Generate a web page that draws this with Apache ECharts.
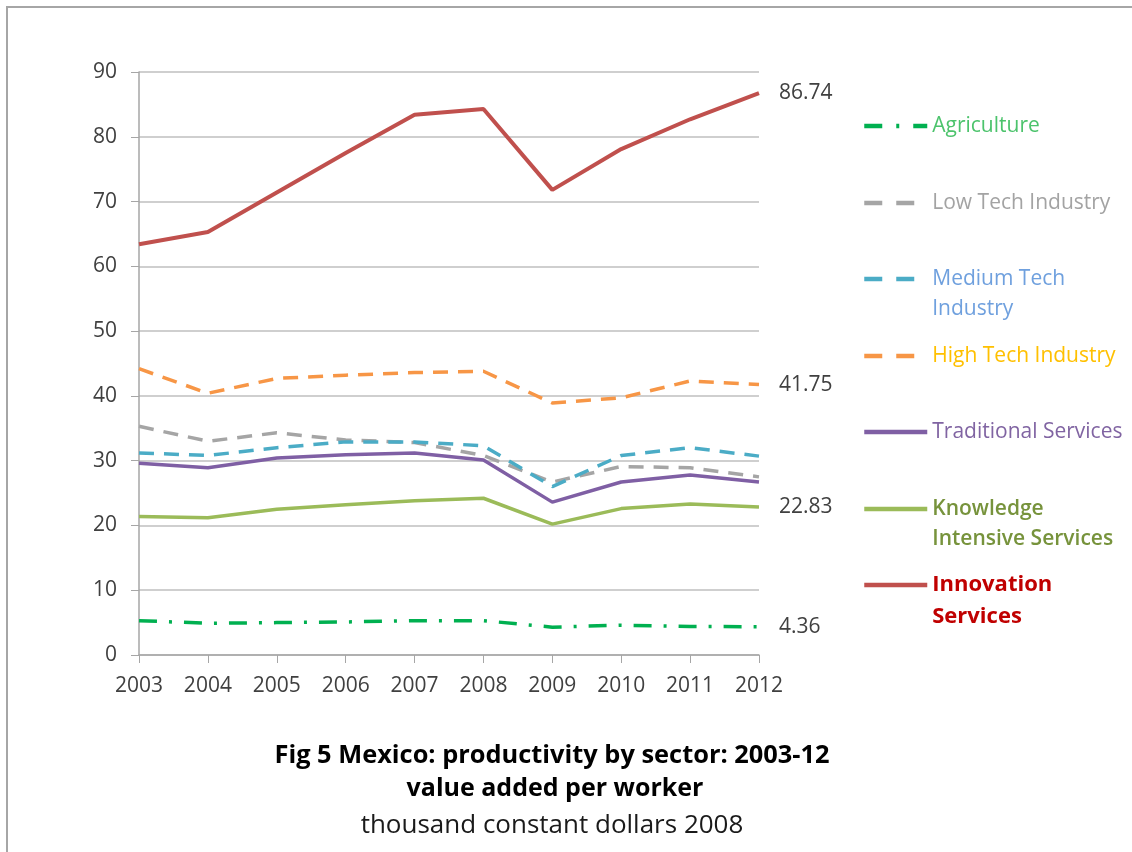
<!DOCTYPE html>
<html>
<head>
<meta charset="utf-8">
<script src="https://cdn.jsdelivr.net/npm/echarts@6/dist/echarts.min.js"></script>
<style>
html,body{margin:0;padding:0;background:#fff;}
#chart{width:1132px;height:852px;}
</style>
</head>
<body>
<div id="chart"></div>
<script>
const years = ['2003','2004','2005','2006','2007','2008','2009','2010','2011','2012'];
const agriculture = [5.3, 4.9, 5.0, 5.1, 5.3, 5.3, 4.3, 4.6, 4.4, 4.36];
const lowTech = [35.3, 33.0, 34.3, 33.2, 32.8, 30.8, 26.7, 29.1, 28.9, 27.5];
const mediumTech = [31.2, 30.8, 32.0, 32.9, 32.9, 32.3, 26.0, 30.8, 32.0, 30.7];
const highTech = [44.2, 40.4, 42.7, 43.2, 43.6, 43.8, 38.9, 39.7, 42.3, 41.75];
const traditional = [29.6, 28.9, 30.4, 30.9, 31.2, 30.1, 23.6, 26.7, 27.8, 26.7];
const knowledge = [21.4, 21.2, 22.5, 23.2, 23.8, 24.2, 20.2, 22.6, 23.3, 22.83];
const innovation = [63.4, 65.3, 71.4, 77.5, 83.4, 84.3, 71.8, 78.1, 82.7, 86.74];
const yTicks = [0, 10, 20, 30, 40, 50, 60, 70, 80, 90];

const FONT = '"Open Sans", Lato, sans-serif';

const seriesDefs = [
  {name:'Agriculture', data:agriculture, color:'#00b050', dash:[18,12,3,12], legendDash:[18,14,3,14], width:3.5, label:true,
   text:'Agriculture', textColor:'#4cc36c', top:111, lines:1},
  {name:'Low Tech Industry', data:lowTech, color:'#a5a5a5', dash:[15,10], legendDash:[18,14], width:3.5, label:false,
   text:'Low Tech Industry', textColor:'#a3a3a3', top:188, lines:1},
  {name:'Medium Tech Industry', data:mediumTech, color:'#4bacc6', dash:[15,10], legendDash:[18,14], width:3.5, label:false,
   text:'Medium Tech\nIndustry', textColor:'#6fa0de', top:234, lines:2},
  {name:'High Tech Industry', data:highTech, color:'#f79646', dash:[15,10], legendDash:[18,14], width:3.5, label:true,
   text:'High Tech Industry', textColor:'#ffc000', top:341, lines:1},
  {name:'Traditional Services', data:traditional, color:'#7f5fa4', dash:'solid', legendDash:'solid', width:3.5, label:false,
   text:'Traditional Services', textColor:'#8064a2', top:417, lines:1},
  {name:'Knowledge Intensive Services', data:knowledge, color:'#9bbb59', dash:'solid', legendDash:'solid', width:3.5, label:true,
   text:'Knowledge\nIntensive Services', textColor:'#77933c', top:464, lines:2, bold:true},
  {name:'Innovation Services', data:innovation, color:'#c0504d', dash:'solid', legendDash:'solid', width:4, label:true,
   text:'Innovation\nServices', textColor:'#c00000', top:537, lines:2, bold:true, big:true}
];

const series = seriesDefs.map(d => ({
  name: d.name,
  type: 'line',
  data: d.data,
  symbol: 'none',
  showSymbol: false,
  smooth: false,
  lineStyle: {color: d.color, width: d.width, type: d.dash, cap: 'butt'},
  itemStyle: {color: d.color},
  emphasis: {disabled: true},
  endLabel: {
    show: d.label,
    distance: 20,
    color: '#404040',
    fontFamily: FONT,
    fontSize: 21,
    formatter: p => p.value.toFixed(2)
  }
}));

const legends = seriesDefs.map(d => {
  const lh = d.big ? 32 : 30;
  return {
    data: [d.name],
    left: 862,
    top: d.top,
    orient: 'vertical',
    padding: 0,
    itemWidth: 63,
    itemHeight: 18,
    itemGap: 0,
    selectedMode: false,
    formatter: () => (d.lines === 2 ? '\n' : '') + d.text,
    itemStyle: {opacity: 0, borderWidth: 0},
    lineStyle: {width: 4.5, type: d.legendDash},
    textStyle: {
      color: d.textColor,
      fontFamily: FONT,
      fontSize: d.big ? 22 : 21,
      fontWeight: d.big ? 'bold' : (d.bold ? 600 : 'normal'),
      lineHeight: lh
    }
  };
});

const chart = echarts.init(document.getElementById('chart'));
chart.setOption({
  animation: false,
  backgroundColor: '#ffffff',
  grid: {left: 139, right: 373, top: 72, bottom: 197, containLabel: false},
  legend: legends,
  xAxis: {
    type: 'category',
    data: years,
    boundaryGap: false,
    axisLine: {lineStyle: {color: '#a6a6a6', width: 1.5}},
    axisTick: {show: true, length: 8, alignWithLabel: true, lineStyle: {color: '#a6a6a6'}},
    axisLabel: {color: '#404040', fontFamily: FONT, fontSize: 21, margin: 21},
    splitLine: {show: false}
  },
  yAxis: {
    type: 'value',
    min: yTicks[0],
    max: yTicks[yTicks.length - 1],
    interval: 10,
    axisLine: {show: true, lineStyle: {color: '#a6a6a6', width: 1.5}},
    axisTick: {show: true, length: 8, lineStyle: {color: '#a6a6a6'}},
    axisLabel: {color: '#404040', fontFamily: FONT, fontSize: 21, margin: 22},
    splitLine: {show: true, lineStyle: {color: '#bfbfbf', width: 1.5}}
  },
  series: series,
  graphic: [
    {type: 'rect', shape: {x: 7, y: 7, width: 1200, height: 900},
     style: {fill: 'none', stroke: '#a6a6a6', lineWidth: 2}, silent: true},
    {type: 'text', x: 552, y: 756,
     style: {text: 'Fig 5 Mexico: productivity by sector: 2003-12', fill: '#000', font: 'bold 25.4px ' + FONT, textAlign: 'center', textVerticalAlign: 'middle'}},
    {type: 'text', x: 555, y: 789,
     style: {text: 'value added per worker', fill: '#000', font: 'bold 25px ' + FONT, textAlign: 'center', textVerticalAlign: 'middle'}},
    {type: 'text', x: 552, y: 826,
     style: {text: 'thousand constant dollars 2008', fill: '#1a1a1a', font: '26px ' + FONT, textAlign: 'center', textVerticalAlign: 'middle'}}
  ]
});
</script>
</body>
</html>
